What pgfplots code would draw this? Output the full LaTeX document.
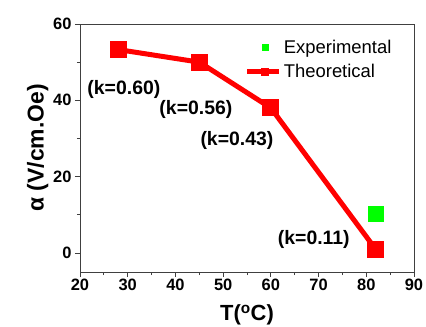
\documentclass[border=0pt]{standalone}
\usepackage{pgfplots}
\pgfplotsset{compat=1.18}
\usepackage{fontspec}
\setmainfont{Liberation Sans}
\definecolor{expgreen}{RGB}{0,255,0}
\definecolor{threed}{RGB}{255,0,0}
\begin{document}
\begin{tikzpicture}
\begin{axis}[
  scale only axis,
  width=334bp, height=248bp,
  xmin=20, xmax=90, ymin=-5, ymax=60,
  xtick={20,30,...,90}, ytick={0,20,40,60},
  minor x tick num=1, minor y tick num=1,
  tick pos=left, tick align=outside,
  major tick length=5bp, minor tick length=3bp,
  axis line style={black!75, line width=0.8pt},
  every tick/.style={black!75, line width=0.8pt},
  tick label style={font=\fontsize{16.5}{18}\selectfont\bfseries},
  xticklabel style={yshift=1bp},
  /pgf/number format/assume math mode=true,
  xlabel={T(\textsuperscript{o}C)},
  ylabel={α (V/cm.Oe)},
  xlabel style={font=\fontsize{22}{24}\selectfont\bfseries, yshift=-7bp},
  ylabel style={font=\fontsize{23}{25}\selectfont\bfseries, yshift=-2bp},
  clip=false,
  legend style={at={(0.493,0.935)}, anchor=north west, draw=none, fill=none,
    font=\fontsize{18.5}{20}\selectfont, row sep=9bp, inner sep=0bp,
    nodes={inner xsep=2bp, inner ysep=0bp}},
  legend cell align=left,
]
\addlegendimage{draw=none, legend image code/.code={
  \path[draw=none] (0,0) -- (32bp,0);
  \fill[expgreen, draw=none] (14.5bp,-3.5bp) rectangle (21.5bp,3.5bp);}}
\addlegendentry{Experimental}
\addlegendimage{draw=none, legend image code/.code={
  \draw[threed, line width=5bp] (0,0) -- (32bp,0);
  \fill[threed, draw=none] (14bp,-4bp) rectangle (22bp,4bp);}}
\addlegendentry{Theoretical}
\addplot[forget plot, only marks, mark=square*, mark size=7.5bp, color=expgreen, mark options={draw=none}]
  coordinates {(28,53.2) (45,50.2) (60,38.2) (82,10.2)};
\addplot[forget plot, threed, line width=5bp, mark=square*, mark size=6bp, mark options={draw=none}]
  coordinates {(28,53.3) (45,50.0) (60,38.0) (82,0.9)};
\node[font=\fontsize{19.5}{21}\selectfont\bfseries] at (axis cs:29.2,42.9) {(k=0.60)};
\node[font=\fontsize{19.5}{21}\selectfont\bfseries] at (axis cs:44.3,37.6) {(k=0.56)};
\node[font=\fontsize{19.5}{21}\selectfont\bfseries] at (axis cs:52.9,29.5) {(k=0.43)};
\node[font=\fontsize{19.5}{21}\selectfont\bfseries] at (axis cs:69.0,3.4) {(k=0.11)};
\end{axis}
\pgfresetboundingbox
\path ([shift={(-80bp,-55bp)}]current axis.south west) rectangle ([shift={(12bp,24bp)}]current axis.north east);
\end{tikzpicture}
\end{document}
